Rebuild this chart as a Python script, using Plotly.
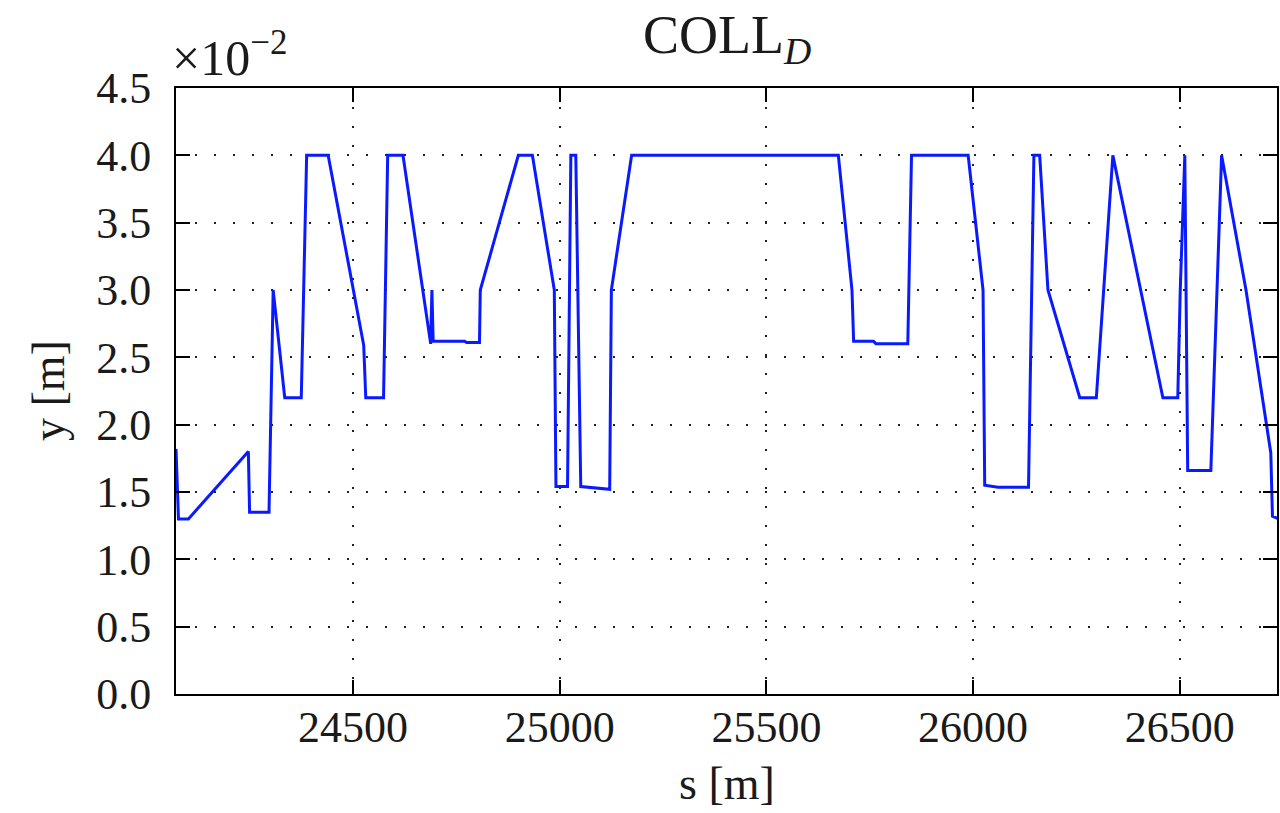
import plotly.graph_objects as go

# Data (s in metres, y in metres)
s_values = [24072, 24078, 24102, 24247, 24250, 24297, 24307, 24335, 24375, 24388,
            24440, 24526, 24531, 24574, 24584, 24621, 24688, 24691, 24694, 24770,
            24775, 24806, 24808, 24900, 24934, 24987, 24991, 25019, 25027, 25039,
            25051, 25121, 25125, 25174, 25674, 25707, 25711, 25759, 25765, 25842,
            25851, 25988, 26024, 26028, 26060, 26134, 26147, 26161, 26181, 26258,
            26298, 26338, 26459, 26495, 26501, 26512, 26519, 26575, 26601, 26660,
            26720, 26724, 26740]
y_values = [0.0182, 0.0130, 0.0130, 0.0180, 0.0135, 0.0135, 0.0300, 0.0220, 0.0220, 0.0400,
            0.0400, 0.0259, 0.0220, 0.0220, 0.0400, 0.0400, 0.0260, 0.0300, 0.0262, 0.0262,
            0.0261, 0.0261, 0.0300, 0.0400, 0.0400, 0.0300, 0.0154, 0.0154, 0.0400, 0.0400,
            0.0154, 0.0152, 0.0300, 0.0400, 0.0400, 0.0300, 0.0262, 0.0262, 0.0260, 0.0260,
            0.0400, 0.0400, 0.0300, 0.0155, 0.01535, 0.01535, 0.0400, 0.0400, 0.0300, 0.0220,
            0.0220, 0.0400, 0.0220, 0.0220, 0.0300, 0.0400, 0.0166, 0.0166, 0.0400, 0.0300,
            0.0179, 0.0132, 0.0130]

x_tickvals = [24500, 25000, 25500, 26000, 26500]
x_ticktext = ["24500", "25000", "25500", "26000", "26500"]
y_tickvals = [0.0, 0.005, 0.010, 0.015, 0.020, 0.025, 0.030, 0.035, 0.040, 0.045]
y_ticktext = ["0.0", "0.5", "1.0", "1.5", "2.0", "2.5", "3.0", "3.5", "4.0", "4.5"]

title_text = "COLL<sub><i>D</i></sub>"
x_label = "s [m]"
y_label = "y [m]"
offset_text = "×10<sup>−2</sup>"

FONT = "Liberation Serif"
TXT = "#1a1a1a"

fig = go.Figure()
fig.add_trace(go.Scatter(x=s_values, y=y_values, mode="lines",
                         line=dict(color="#0a1aff", width=3), showlegend=False))

axis_common = dict(
    showline=True, linecolor="black", linewidth=2, mirror="ticks",
    ticks="inside", ticklen=14, tickwidth=2, tickcolor="black",
    showgrid=True, gridcolor="#222222", gridwidth=2, griddash="2px,17px",
    zeroline=False,
    tickfont=dict(family=FONT, size=44, color=TXT),
)

fig.update_xaxes(range=[24072, 26735], tickmode="array", tickvals=x_tickvals,
                 ticktext=x_ticktext, ticklabelstandoff=-7, **axis_common)
fig.update_yaxes(range=[0, 0.045], tickmode="array", tickvals=y_tickvals,
                 ticktext=y_ticktext, ticklabelstandoff=14, **axis_common)

fig.update_layout(
    width=1280, height=813,
    margin=dict(l=176, r=1, t=88, b=119),
    paper_bgcolor="white", plot_bgcolor="white",
    font=dict(family=FONT, color=TXT),
    annotations=[
        dict(text=title_text, x=0.5, y=1, xref="paper", yref="paper",
             xanchor="center", yanchor="bottom", yshift=14, showarrow=False,
             font=dict(family=FONT, size=54, color=TXT)),
        dict(text=offset_text, x=0, y=1, xref="paper", yref="paper",
             xanchor="left", yanchor="bottom", xshift=-6, yshift=0, showarrow=False,
             font=dict(family=FONT, size=50, color=TXT)),
        dict(text=x_label, x=0.5, y=0, xref="paper", yref="paper",
             xanchor="center", yanchor="top", yshift=-62, showarrow=False,
             font=dict(family=FONT, size=46, color=TXT)),
        dict(text=y_label, x=0, y=0.5, xref="paper", yref="paper",
             xanchor="center", yanchor="middle", xshift=-128, textangle=-90, showarrow=False,
             font=dict(family=FONT, size=46, color=TXT)),
    ],
)

fig.write_html("out.html")
